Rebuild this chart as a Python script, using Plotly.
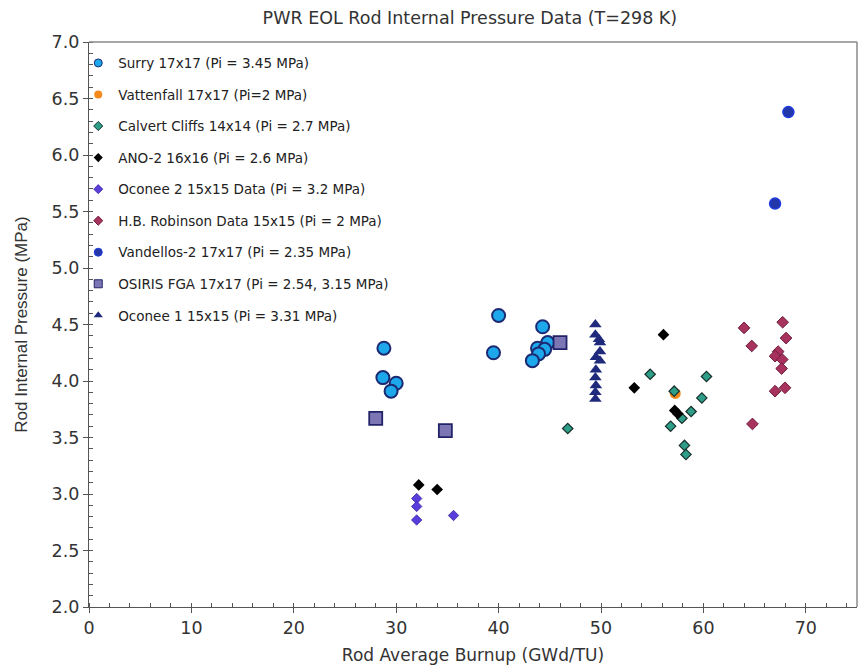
import plotly.graph_objects as go

# ---- data (burnup GWd/TU, pressure MPa) ----
surry_x = [28.8, 28.7, 30.0, 29.5, 40.0, 39.5, 44.3, 43.8, 44.8, 44.5, 43.9, 43.3]
surry_y = [4.29, 4.03, 3.98, 3.91, 4.58, 4.25, 4.48, 4.29, 4.34, 4.28, 4.24, 4.18]

vatt_x = [57.25]
vatt_y = [3.89]

calvert_x = [46.75, 54.8, 60.3, 57.15, 59.85, 58.8, 57.9, 56.8, 58.15, 58.3]
calvert_y = [3.58, 4.06, 4.04, 3.91, 3.85, 3.73, 3.67, 3.60, 3.43, 3.35]

ano2_x = [32.2, 34.0, 53.25, 56.1, 57.2, 57.5]
ano2_y = [3.08, 3.04, 3.94, 4.41, 3.74, 3.71]

oconee2_x = [32.0, 32.0, 32.0, 35.6]
oconee2_y = [2.96, 2.89, 2.77, 2.81]

hbr_x = [63.97, 64.72, 67.74, 68.07, 67.3, 67.0, 67.7, 67.64, 67.97, 67.0, 64.79]
hbr_y = [4.47, 4.31, 4.52, 4.38, 4.26, 4.22, 4.19, 4.11, 3.94, 3.91, 3.62]

vand_x = [68.3, 67.0]
vand_y = [6.38, 5.57]

osiris_x = [28.0, 34.8, 46.0]
osiris_y = [3.67, 3.56, 4.34]

oconee1_x = [49.45, 49.45, 49.8, 49.9, 49.9, 49.5, 49.9, 49.5, 49.45, 49.5, 49.45, 49.45]
oconee1_y = [4.50, 4.41, 4.37, 4.34, 4.26, 4.21, 4.18, 4.10, 4.03, 3.96, 3.90, 3.84]

x_ticks = [0, 10, 20, 30, 40, 50, 60, 70]
y_ticks = [2.0, 2.5, 3.0, 3.5, 4.0, 4.5, 5.0, 5.5, 6.0, 6.5, 7.0]

FONT = "DejaVu Sans, sans-serif"
FONT_V = "Liberation Sans, Arial, sans-serif"

series = [
    ("Surry 17x17 (Pi = 3.45 MPa)", surry_x, surry_y, "circle", 13, 8, "#1EA8EC", "#1B2A72", 2),
    ("Vattenfall 17x17 (Pi=2 MPa)", vatt_x, vatt_y, "circle", 11, 8, "#F28A1C", "#F28A1C", 0),
    ("Calvert Cliffs 14x14 (Pi = 2.7 MPa)", calvert_x, calvert_y, "diamond", 8, 7, "#2E9E88", "#17302C", 1.2),
    ("ANO-2 16x16 (Pi = 2.6 MPa)", ano2_x, ano2_y, "diamond", 9, 7, "#000000", "#000000", 0),
    ("Oconee 2 15x15 Data (Pi = 3.2 MPa)", oconee2_x, oconee2_y, "diamond", 8, 7, "#5B3DDC", "#3A2AA0", 0.8),
    ("H.B. Robinson Data 15x15 (Pi = 2 MPa)", hbr_x, hbr_y, "diamond", 9, 7, "#A8325E", "#6E1F3C", 1),
    ("Vandellos-2 17x17 (Pi = 2.35 MPa)", vand_x, vand_y, "circle", 11, 8, "#2437A8", "#1E3CE0", 1.5),
    ("OSIRIS FGA 17x17 (Pi = 2.54, 3.15 MPa)", osiris_x, osiris_y, "square", 13, 8, "#7C76B4", "#23236A", 1.8),
    ("Oconee 1 15x15 (Pi = 3.31 MPa)", oconee1_x, oconee1_y, "triangle-up", 11, 8, "#1F2A7C", "#1F2A7C", 0),
]

fig = go.Figure()
for i, (name, xs, ys, sym, size, lsize, fill, line, lw) in enumerate(series):
    fig.add_trace(go.Scatter(
        x=xs, y=ys, mode="markers", name=name, legendgroup=f"g{i}", showlegend=False,
        marker=dict(symbol=sym, size=size, color=fill, line=dict(color=line, width=lw)),
    ))
    # legend entry with the small legend symbol
    fig.add_trace(go.Scatter(
        x=[None], y=[None], mode="markers", name=name, legendgroup=f"g{i}", showlegend=True,
        marker=dict(symbol=sym, size=lsize, color=fill, line=dict(color=line, width=min(lw, 1))),
    ))

fig.update_layout(
    width=859, height=672,
    margin=dict(l=89, r=2, t=42, b=65),
    paper_bgcolor="white", plot_bgcolor="white",
    font=dict(family=FONT, color="#333333"),
    title=dict(text="PWR EOL Rod Internal Pressure Data (T=298 K)", x=0.547, xanchor="center",
               y=0.973, yanchor="middle", font=dict(size=17.5, color="#333333", family=FONT)),
    showlegend=True,
    legend=dict(x=-0.014, y=0.99, xanchor="left", yanchor="top", bgcolor="rgba(0,0,0,0)",
                font=dict(size=13.5, color="#222222", family=FONT), tracegroupgap=11,
                itemsizing="trace", itemwidth=30),
    xaxis=dict(range=[0, 75], tickvals=x_ticks, ticks="outside", ticklen=5, tickcolor="#555",
               showline=True, linecolor="#555", linewidth=1.2, showgrid=False, zeroline=False,
               tickfont=dict(size=17.5, color="#333", family=FONT),
               minor=dict(dtick=2, ticks="inside", ticklen=4, tickcolor="#555", showgrid=False),
               title=dict(text="Rod Average Burnup (GWd/TU)", font=dict(size=17, color="#333", family=FONT),
                          standoff=12)),
    yaxis=dict(range=[2, 7], tickvals=y_ticks, tickformat=".1f", ticks="outside", ticklen=5, tickcolor="#555",
               showline=True, linecolor="#555", linewidth=1.2, showgrid=False, zeroline=False,
               tickfont=dict(size=17.5, color="#333", family=FONT),
               minor=dict(dtick=0.1, ticks="inside", ticklen=4, tickcolor="#555", showgrid=False),
               title=dict(text="Rod Internal Pressure (MPa)", font=dict(size=17, color="#333", family=FONT_V),
                          standoff=19)),
)

# frame on top/right
fig.add_shape(type="line", xref="paper", yref="paper", x0=0, x1=1, y0=1, y1=1,
              line=dict(color="#8a8a8a", width=1.5))
fig.add_shape(type="line", xref="paper", yref="paper", x0=1, x1=1, y0=0, y1=1,
              line=dict(color="#8a8a8a", width=1.5))

fig.write_html("out.html")
